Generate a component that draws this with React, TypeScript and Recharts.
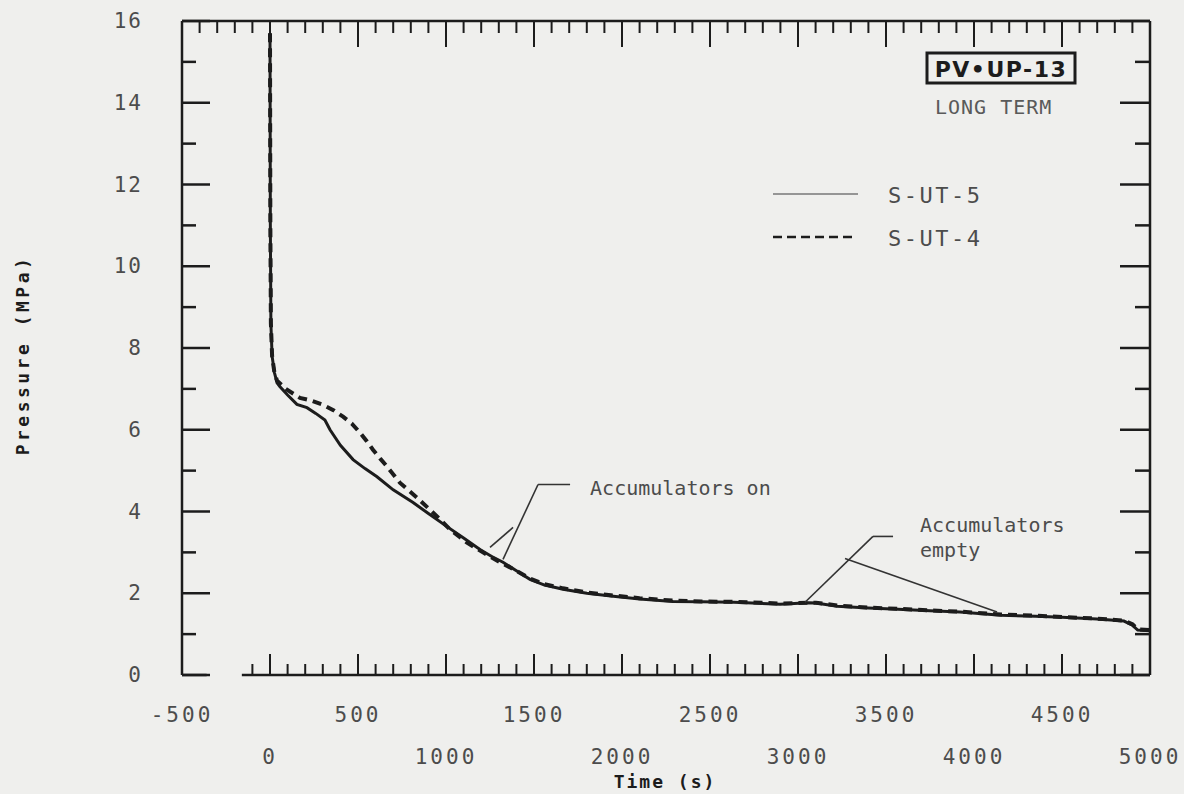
import { LineChart, Line, XAxis, YAxis, ReferenceLine } from "recharts";

// Pressure history, long-term run (time in s, pressure in MPa)
const TIME_UT5 = [
  0, 2, 5, 12, 25, 40, 57, 100, 153, 210, 260, 312, 341, 400, 472, 540, 608,
  700, 813, 900, 1006, 1100, 1193, 1260, 1324, 1400, 1477, 1560, 1665, 1800,
  1937, 2100, 2290, 2450, 2636, 2898, 3060, 3102, 3222, 3400, 3568, 3750, 3920,
  4153, 4350, 4500, 4700, 4852, 4900, 4930, 5000,
];
const PRESSURE_UT5 = [
  15.7, 11.0, 8.6, 7.8, 7.4, 7.15, 7.05, 6.85, 6.62, 6.54, 6.4, 6.24, 6.0,
  5.62, 5.27, 5.05, 4.85, 4.53, 4.22, 3.95, 3.63, 3.35, 3.07, 2.9, 2.76, 2.55,
  2.34, 2.2, 2.1, 2.0, 1.93, 1.86, 1.8, 1.79, 1.78, 1.73, 1.77, 1.76, 1.68,
  1.64, 1.61, 1.57, 1.54, 1.46, 1.44, 1.41, 1.37, 1.32, 1.22, 1.1, 1.08,
];

const TIME_UT4 = [
  0, 2, 5, 12, 25, 40, 90, 170, 230, 301, 360, 415, 465, 511, 550, 585, 625,
  665, 739, 835, 949, 1023, 1119, 1210, 1307, 1400, 1477, 1560, 1665, 1800,
  1937, 2100, 2290, 2450, 2636, 2898, 3102, 3222, 3400, 3568, 3750, 3920, 4153,
  4350, 4500, 4700, 4852, 4900, 4930, 5000,
];
const PRESSURE_UT4 = [
  15.7, 11.0, 8.6, 7.8, 7.4, 7.2, 7.0, 6.78, 6.72, 6.61, 6.48, 6.32, 6.15,
  5.93, 5.72, 5.51, 5.3, 5.1, 4.7, 4.34, 3.88, 3.56, 3.24, 3.0, 2.76, 2.55,
  2.36, 2.22, 2.12, 2.02, 1.95, 1.88, 1.82, 1.8, 1.79, 1.75, 1.77, 1.7, 1.65,
  1.62, 1.58, 1.55, 1.48, 1.45, 1.42, 1.38, 1.33, 1.24, 1.12, 1.1,
];

const X_LABELS = [-500, 0, 500, 1000, 1500, 2000, 2500, 3000, 3500, 4000, 4500, 5000];
const Y_LABELS = [0, 2, 4, 6, 8, 10, 12, 14, 16];

// leader lines for the two notes: [stub, pointer, branch]
const ACC_ON_LEADER = [
  [{ x: 1523, y: 4.66 }, { x: 1705, y: 4.66 }],
  [{ x: 1523, y: 4.66 }, { x: 1324, y: 2.83 }],
  [{ x: 1381, y: 3.61 }, { x: 1250, y: 3.12 }],
];
const ACC_EMPTY_LEADER = [
  [{ x: 3426, y: 3.39 }, { x: 3540, y: 3.39 }],
  [{ x: 3426, y: 3.39 }, { x: 3040, y: 1.78 }],
  [{ x: 3267, y: 2.85 }, { x: 4131, y: 1.54 }],
];

const W = 1184;
const H = 794;
const PLOT = { left: 182, right: 1150, top: 21, bottom: 675 };
const INK = "#1c1c1c";
const GREY = "#4c4c4c";
const MONO = "'DejaVu Sans Mono', monospace";

const X_TICKS: number[] = [];
for (let t = -500; t <= 5000; t += 100) X_TICKS.push(t);
const Y_TICKS: number[] = [];
for (let p = 0; p <= 16; p += 1) Y_TICKS.push(p);

const ut5Rows = TIME_UT5.map((t, i) => ({ t, p: PRESSURE_UT5[i] }));
const ut4Rows = TIME_UT4.map((t, i) => ({ t, p: PRESSURE_UT4[i] }));

function TimeTick(props: any) {
  const { x, payload } = props;
  const t = payload.value;
  const major = t % 500 === 0;
  const lowerRow = t % 1000 === 0;
  return (
    <g>
      <line x1={x} x2={x} y1={PLOT.top} y2={PLOT.top + (major ? 26 : 12)} stroke={INK} strokeWidth={2} />
      {t >= -100 && (
        <line x1={x} x2={x} y1={PLOT.bottom} y2={PLOT.bottom - (major ? 21 : 11)} stroke={INK} strokeWidth={2} />
      )}
      {X_LABELS.includes(t) && (
        <text
          x={x}
          y={lowerRow ? 757 : 715}
          textAnchor="middle"
          dominantBaseline="central"
          fontFamily={MONO}
          fontSize={21}
          letterSpacing={3}
          fill={GREY}
        >
          {t}
        </text>
      )}
    </g>
  );
}

function PressureTick(props: any) {
  const { y, payload } = props;
  const p = payload.value;
  const major = p % 2 === 0;
  return (
    <g>
      <line x1={PLOT.left} x2={PLOT.left + (major ? 28 : 14)} y1={y} y2={y} stroke={INK} strokeWidth={2.5} />
      <line x1={PLOT.right} x2={PLOT.right - (major ? 30 : 15)} y1={y} y2={y} stroke={INK} strokeWidth={2.5} />
      {Y_LABELS.includes(p) && (
        <text
          x={143}
          y={y}
          textAnchor="end"
          dominantBaseline="central"
          fontFamily={MONO}
          fontSize={21}
          letterSpacing={2}
          fill={GREY}
        >
          {p}
        </text>
      )}
    </g>
  );
}

function NoteLabel(props: any) {
  const { viewBox, lines, dx, dy } = props;
  if (!viewBox) return null;
  const x = viewBox.x + viewBox.width + dx;
  const y = viewBox.y + dy;
  return (
    <text x={x} y={y} fontFamily={MONO} fontSize={20} fill={GREY} dominantBaseline="central">
      {lines.map((line: string, i: number) => (
        <tspan key={line} x={x} dy={i === 0 ? 0 : 25}>
          {line}
        </tspan>
      ))}
    </text>
  );
}

function Leader({ segments, lines, dx, dy }: any) {
  return segments.map((seg: any, i: number) => (
    <ReferenceLine
      key={i}
      segment={seg}
      stroke="#333"
      strokeWidth={1.6}
      ifOverflow="visible"
      label={i === 0 ? <NoteLabel lines={lines} dx={dx} dy={dy} /> : undefined}
    />
  ));
}

export default function App() {
  return (
    <div style={{ position: "absolute", left: 0, top: 0, width: W, height: H, background: "#efefed" }}>
      <LineChart width={W} height={H} margin={{ top: PLOT.top, right: W - PLOT.right, bottom: 0, left: 0 }}>
        <XAxis
          type="number"
          dataKey="t"
          domain={[-500, 5000]}
          ticks={X_TICKS}
          interval={0}
          tick={<TimeTick />}
          tickLine={false}
          axisLine={false}
          tickSize={0}
          height={H - PLOT.bottom}
          allowDataOverflow
        />
        <YAxis
          type="number"
          domain={[0, 16]}
          ticks={Y_TICKS}
          interval={0}
          tick={<PressureTick />}
          tickLine={false}
          axisLine={{ stroke: INK, strokeWidth: 2.5 }}
          tickSize={0}
          width={PLOT.left}
          allowDataOverflow
        />
        {/* frame: top, right and the broken bottom edge */}
        <ReferenceLine y={16} stroke={INK} strokeWidth={2.5} />
        <ReferenceLine x={5000} stroke={INK} strokeWidth={2.5} />
        <ReferenceLine segment={[{ x: -500, y: 0 }, { x: -360, y: 0 }]} stroke={INK} strokeWidth={2.5} />
        <ReferenceLine segment={[{ x: -160, y: 0 }, { x: 5000, y: 0 }]} stroke={INK} strokeWidth={2.5} />

        <Line
          data={ut4Rows}
          dataKey="p"
          type="linear"
          stroke={INK}
          strokeWidth={4}
          strokeDasharray="9 6"
          dot={false}
          isAnimationActive={false}
        />
        <Line
          data={ut5Rows}
          dataKey="p"
          type="linear"
          stroke={INK}
          strokeWidth={3}
          dot={false}
          isAnimationActive={false}
        />

        {Leader({ segments: ACC_ON_LEADER, lines: ["Accumulators on"], dx: 20, dy: 3 })}
        {Leader({ segments: ACC_EMPTY_LEADER, lines: ["Accumulators", "empty"], dx: 27, dy: -11 })}
      </LineChart>

      <svg width={W} height={H} style={{ position: "absolute", left: 0, top: 0, pointerEvents: "none" }}>
        {/* run tag */}
        <rect x={927} y={53} width={148} height={30} fill="none" stroke={INK} strokeWidth={3} />
        <text
          x={1001}
          y={69}
          textAnchor="middle"
          dominantBaseline="central"
          fontFamily="'DejaVu Sans', sans-serif"
          fontWeight="bold"
          fontSize={22}
          letterSpacing={1.5}
          fill={INK}
        >
          PV•UP-13
        </text>
        <text x={935} y={107} dominantBaseline="central" fontFamily={MONO} fontSize={20} letterSpacing={1} fill="#5a5a5a">
          LONG TERM
        </text>

        {/* legend */}
        <line x1={773} x2={858} y1={194} y2={194} stroke="#777" strokeWidth={1.6} />
        <text x={888} y={195} dominantBaseline="central" fontFamily={MONO} fontSize={22} letterSpacing={2.5} fill={GREY}>
          S-UT-5
        </text>
        <line x1={773} x2={852} y1={237} y2={237} stroke={INK} strokeWidth={2.5} strokeDasharray="9 5" />
        <text x={888} y={238} dominantBaseline="central" fontFamily={MONO} fontSize={22} letterSpacing={2.5} fill={GREY}>
          S-UT-4
        </text>

        {/* axis titles */}
        <text
          x={22}
          y={355}
          transform="rotate(-90 22 355)"
          textAnchor="middle"
          dominantBaseline="central"
          fontFamily={MONO}
          fontWeight="bold"
          fontSize={18}
          letterSpacing={3.5}
          fill={INK}
        >
          Pressure (MPa)
        </text>
        <text
          x={665}
          y={781}
          textAnchor="middle"
          dominantBaseline="central"
          fontFamily={MONO}
          fontWeight="bold"
          fontSize={18}
          letterSpacing={2}
          fill={INK}
        >
          Time (s)
        </text>
      </svg>
    </div>
  );
}
